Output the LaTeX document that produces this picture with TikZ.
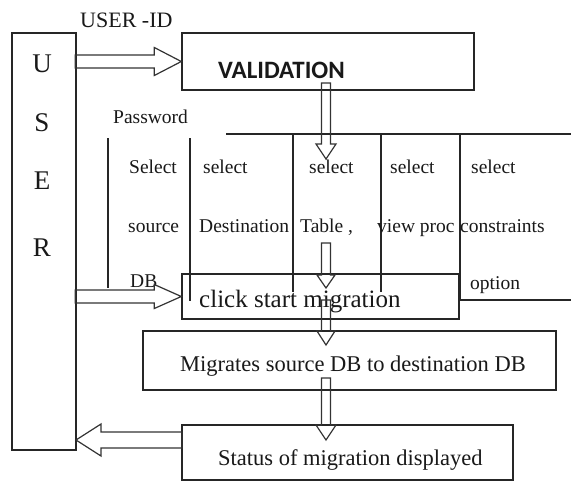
\documentclass[tikz,border=0pt]{standalone}
\usepackage{fontspec}
\setmainfont{Liberation Serif}
\newfontfamily\valfont{Carlito}
\usetikzlibrary{calc}
\tikzset{
  ln/.style={draw=black!85, line width=1.4pt},
  box/.style={ln, rectangle, inner sep=0pt},
  blk/.style={draw=black!80, line width=1.2pt, line join=miter},
  txt/.style={inner sep=0pt, text=black!90, anchor=base west},
  cell/.style={txt, font=\fontsize{19.5}{20}\selectfont},
}
% right-pointing hollow arrow: tip, length, shaft half, head half, head length
\newcommand\rarr[5]{\draw[blk] (#1) ++(-#2,-#3) -- ++({#2-#5},0) -- ++(0,{-(#4-#3)}) -- (#1) -- ++(-#5,#4) -- ++(0,{-(#4-#3)}) -- ++({-(#2-#5)},0) -- cycle;}
\newcommand\larr[5]{\draw[blk] (#1) ++(#2,-#3) -- ++({-(#2-#5)},0) -- ++(0,{-(#4-#3)}) -- (#1) -- ++(#5,#4) -- ++(0,{-(#4-#3)}) -- ++({#2-#5},0) -- cycle;}
\newcommand\darr[5]{\draw[blk] (#1) ++(-#3,-#2) -- ++(0,{#2-#5}) -- ++({-(#4-#3)},0) -- (#1) -- ++(#4,-#5) -- ++({-(#4-#3)},0) -- ++(0,{-(#2-#5)}) -- cycle;}
\begin{document}
\begin{tikzpicture}[x=1pt,y=-1pt]
\useasboundingbox (0,0) rectangle (571,483);
\fill[white] (0,0) rectangle (571,483);
% boxes
\node[box, minimum width=64, minimum height=417] (user) at (44,241.5) {};
\node[box, minimum width=292, minimum height=57] (val) at (328,61.5) {};
\node[box, minimum width=277, minimum height=45] (click) at (320.5,296.5) {};
\node[box, minimum width=413, minimum height=59] (mig) at (349.5,360.5) {};
\node[box, minimum width=331, minimum height=55] (stat) at (347.5,452.5) {};
% user letters
\begin{scope}[every node/.style={inner sep=0pt, anchor=base, text=black!90, font=\fontsize{27}{27}\selectfont}]
\node (uU) at (42,72) {U};
\node (uS) at (42,131) {S};
\node (uE) at (42,189) {E};
\node (uR) at (42,256) {R};
\end{scope}
% labels
\node[txt, font=\fontsize{22}{22}\selectfont] (uid) at (80,27) {USER -ID};
\node[txt, font=\valfont\bfseries\fontsize{25}{25}\selectfont] (valt) at (218,78) {VALIDATION};
\node[cell] (pw) at (113,123) {Password};
% table lines
\draw[ln] (226,134) -- (571,134);
\draw[ln] (108,138) -- (108,288);
\draw[ln] (190,138) -- (190,301);
\draw[ln] (293,134) -- (293,292);
\draw[ln] (381,134) -- (381,292);
\draw[ln] (460,134) -- (460,300) -- (571,300);
% table texts
\node[cell] (c11) at (129,173) {Select};
\node[cell] (c12) at (128,232) {source};
\node[cell] (c13) at (130,287) {DB};
\node[cell] (c21) at (203,173) {select};
\node[cell] (c22) at (199,232) {Destination};
\node[cell] (c31) at (309,173) {select};
\node[cell] (c32) at (300,232) {Table ,};
\node[cell] (c41) at (390,173) {select};
\node[cell] (c42) at (377,232) {view proc};
\node[cell] (c51) at (471,173) {select};
\node[cell] (c52) at (460,232) {constraints};
\node[cell] (c53) at (470,289) {option};
% box texts
\node[txt, font=\fontsize{25}{25}\selectfont] (clickt) at (199,307) {click start migration};
\node[txt, font=\fontsize{22.5}{22.5}\selectfont] (migt) at (180,371) {Migrates source DB to destination DB};
\node[txt, font=\fontsize{22.5}{22.5}\selectfont] (statt) at (218,465) {Status of migration displayed};
% arrows
\coordinate (t1) at (326,159);
\coordinate (t2) at (326,288);
\coordinate (t3) at (326,345);
\coordinate (t4) at (326,440);
\coordinate (uin) at (76,440);
\rarr{val.west}{106}{6.5}{14}{27}
\rarr{click.west}{106}{6.5}{12}{27}
\larr{uin}{106}{8}{16}{25}
\darr{t1}{76}{4.5}{10}{15}
\darr{t2}{45}{4.5}{9}{13}
\darr{t3}{45}{4.5}{9}{14}
\darr{t4}{62}{4.5}{10}{15}
\end{tikzpicture}
\end{document}
